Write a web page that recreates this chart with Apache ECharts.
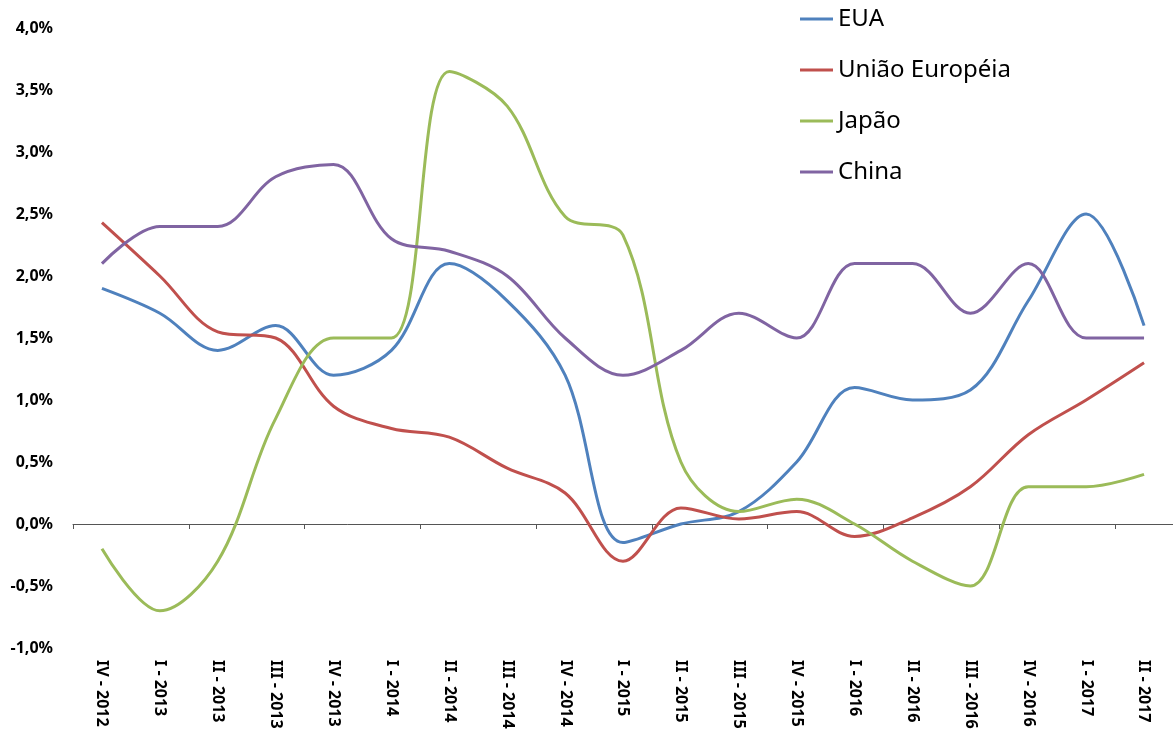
<!DOCTYPE html>
<html><head><meta charset="utf-8">
<script src="https://cdn.jsdelivr.net/npm/echarts@6/dist/echarts.min.js"></script>
<style>html,body{margin:0;padding:0;background:#fff}#c{width:1173px;height:736px}</style>
</head><body><div id="c"></div>
<script>
const categories = ['IV - 2012','I - 2013','II - 2013','III - 2013','IV - 2013','I - 2014','II - 2014','III - 2014','IV - 2014','I - 2015','II - 2015','III - 2015','IV - 2015','I - 2016','II - 2016','III - 2016','IV - 2016','I - 2017','II - 2017'];
const eua   = [1.9, 1.7, 1.4, 1.6, 1.2, 1.4, 2.1, 1.8, 1.2, -0.15, 0.0, 0.1, 0.5, 1.1, 1.0, 1.08, 1.8, 2.5, 1.6];
const ue    = [2.43, 2.0, 1.55, 1.5, 0.95, 0.77, 0.7, 0.45, 0.25, -0.3, 0.13, 0.04, 0.1, -0.1, 0.05, 0.3, 0.72, 1.0, 1.3];
const japao = [-0.2, -0.7, -0.3, 0.85, 1.5, 1.5, 3.65, 3.37, 2.48, 2.33, 0.5, 0.1, 0.2, 0.0, -0.3, -0.5, 0.3, 0.3, 0.4];
const china = [2.1, 2.4, 2.4, 2.8, 2.9, 2.3, 2.2, 2.0, 1.5, 1.2, 1.4, 1.7, 1.5, 2.1, 2.1, 1.7, 2.1, 1.5, 1.5];
const seriesNames = ['EUA','União Européia','Japão','China'];
const colors = ['#4F81BD','#C0504D','#9BBB59','#8064A2'];
const font = '"Noto Sans", "Open Sans", "Liberation Sans", sans-serif';

const chart = echarts.init(document.getElementById('c'), null, {renderer:'canvas'});
const mk = (name, data, color) => ({
  name, type:'line', data, smooth:0.35, symbol:'none', xAxisIndex:0,
  lineStyle:{color, width:3}, itemStyle:{color}
});
chart.setOption({
  animation:false,
  color: colors,
  grid:{left:73, top:28, width:1106, bottom:88, containLabel:false},
  legend:{
    orient:'vertical', left:795, top:1, itemGap:25,
    icon:'rect', itemWidth:33, itemHeight:3, itemStyle:{borderWidth:0},
    data: seriesNames,
    textStyle:{fontFamily:font, fontSize:24, color:'#000', lineHeight:26}
  },
  xAxis:[{
    type:'category', data:categories, boundaryGap:true,
    axisLine:{onZero:true, lineStyle:{color:'#555', width:1}},
    axisTick:{show:true, inside:false, length:5, lineStyle:{color:'#555'}},
    axisLabel:{show:false}
  },{
    type:'category', data:categories, boundaryGap:true, position:'bottom',
    axisLine:{show:false, onZero:false}, axisTick:{show:false},
    axisLabel:{show:true, rotate:-90, margin:12, fontFamily:font, fontWeight:'bold', fontSize:16, color:'#000', interval:0}
  }],
  yAxis:{
    type:'value', min:-1, max:4, interval:0.5,
    axisLine:{show:false}, axisTick:{show:false}, splitLine:{show:false},
    axisLabel:{margin:20, fontFamily:font, fontWeight:'bold', fontSize:16, color:'#000',
      formatter:v=>v.toFixed(1).replace('.',',')+'%'}
  },
  series:[mk(seriesNames[0],eua,colors[0]),mk(seriesNames[1],ue,colors[1]),mk(seriesNames[2],japao,colors[2]),mk(seriesNames[3],china,colors[3])]
});
</script></body></html>
